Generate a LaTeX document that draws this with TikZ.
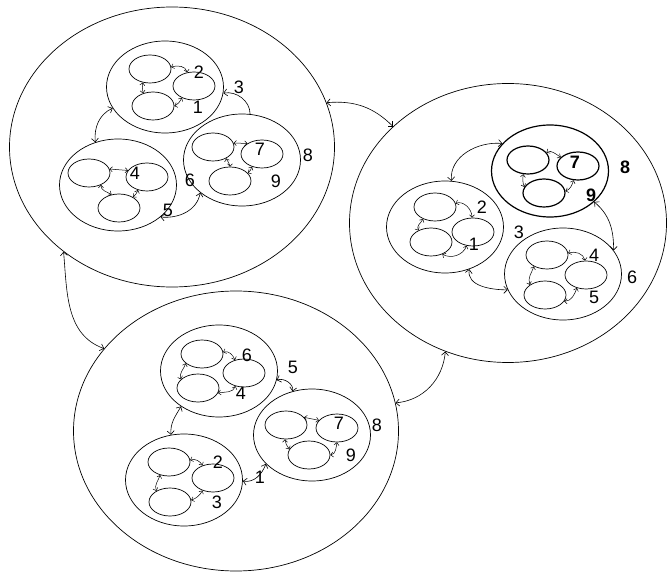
\documentclass[tikz,border=0pt]{standalone}
\usepackage{fontspec}
\setmainfont{Liberation Sans}
\usetikzlibrary{shapes.geometric, arrows.meta}

\begin{document}
\begin{tikzpicture}[
  x=1pt, y=-1pt,
  outer/.style={draw, ellipse, inner sep=0pt, minimum width=325pt, minimum height=280pt, line width=0.7pt},
  group/.style={draw, ellipse, inner sep=0pt, minimum width=117pt, minimum height=92pt, line width=0.7pt},
  cell/.style={draw, ellipse, inner sep=0pt, minimum width=42pt, minimum height=28pt, line width=0.7pt},
  hot/.style={line width=1.2pt},
  arr/.style={{Straight Barb[length=3.5pt, width=7pt]}-{Straight Barb[length=3.5pt, width=7pt]}, line width=0.6pt},
  sarr/.style={{Straight Barb[length=2.5pt, width=5pt]}-{Straight Barb[length=2.5pt, width=5pt]}, line width=0.5pt},
  num/.style={font=\fontsize{18}{20}\selectfont, inner sep=0pt},
]
\useasboundingbox (0,0) rectangle (667,572);

% Outer regions
\node[outer] (L) at (172,147) {};
\node[outer, minimum width=317pt, minimum height=279pt] (R) at (508,223) {};
\node[outer] (B) at (236,431) {};

% Region L
\node[group] (L1) at (165,87) {};
\node[group] (L2) at (118,185) {};
\node[group] (L3) at (242,160) {};
\node[cell] (L1a) at (150,69) {};
\node[cell] (L1b) at (194,86) {};
\node[cell] (L1c) at (153,106) {};
\node[cell] (L2a) at (89,173) {};
\node[cell] (L2b) at (147,177) {};
\node[cell] (L2c) at (119,208) {};
\node[cell] (L3a) at (213,147) {};
\node[cell] (L3b) at (262,154) {};
\node[cell] (L3c) at (230,181) {};
\node[num] (nL2) at (199,72) {2};
\node[num] (nL1) at (198,107) {1};
\node[num] (nL3) at (239,87) {3};
\node[num] (nL4) at (135,173) {4};
\node[num] (nL5) at (168,210) {5};
\node[num] (nL6) at (190,180) {6};
\node[num] (nL7) at (260,149) {7};
\node[num] (nL8) at (308,155) {8};
\node[num] (nL9) at (276,181) {9};

% Region R
\node[group, hot] (R1) at (550,171) {};
\node[group] (R2) at (445,227) {};
\node[group] (R3) at (563,274) {};
\node[cell, hot] (R1a) at (528,160) {};
\node[cell, hot] (R1b) at (578,166) {};
\node[cell, hot] (R1c) at (544,193) {};
\node[cell] (R2a) at (435,207) {};
\node[cell] (R2b) at (473,232) {};
\node[cell] (R2c) at (431,242) {};
\node[cell] (R3a) at (547,255) {};
\node[cell] (R3b) at (586,275) {};
\node[cell] (R3c) at (545,295) {};
\node[num, font=\fontsize{18}{20}\selectfont\bfseries] (nR7) at (575,162) {7};
\node[num, font=\fontsize{18}{20}\selectfont\bfseries] (nR8) at (625,167) {8};
\node[num, font=\fontsize{18}{20}\selectfont\bfseries] (nR9) at (591,195) {9};
\node[num] (nR2) at (482,207) {2};
\node[num] (nR1) at (474,244) {1};
\node[num] (nR3) at (519,232) {3};
\node[num] (nR4) at (594,255) {4};
\node[num] (nR5) at (594,297) {5};
\node[num] (nR6) at (632,277) {6};

% Region B
\node[group] (B1) at (219,371) {};
\node[group] (B2) at (184,480) {};
\node[group] (B3) at (312,435) {};
\node[cell] (B1a) at (202,354) {};
\node[cell] (B1b) at (244,373) {};
\node[cell] (B1c) at (198,388) {};
\node[cell] (B2a) at (169,462) {};
\node[cell] (B2b) at (213,478) {};
\node[cell] (B2c) at (170,502) {};
\node[cell] (B3a) at (286,425) {};
\node[cell] (B3b) at (337,428) {};
\node[cell] (B3c) at (309,455) {};
\node[num] (nB6) at (247,355) {6};
\node[num] (nB4) at (241,393) {4};
\node[num] (nB5) at (293,367) {5};
\node[num] (nB2) at (218,462) {2};
\node[num] (nB3) at (217,502) {3};
\node[num] (nB1) at (260,477) {1};
\node[num] (nB7) at (339,423) {7};
\node[num] (nB8) at (377,425) {8};
\node[num] (nB9) at (351,455) {9};

% Links between regions
\draw[arr] (L.16) to[out=5, in=135] (R.140);
\draw[arr] (L.224) to[out=275, in=160] (B.148);
\draw[arr] (R.244) to[out=265, in=5] (B.10);

% Links between groups
\draw[arr] (L1.202) to[out=205, in=95] (L2.118);
\draw[{Straight Barb[length=3.5pt, width=7pt]}-, line width=0.6pt] (L1.354) to[out=10, in=90] (L3.80);
\draw[arr] (L2.323) to[out=-5, in=260] (L3.218);
\draw[arr] (R1.150) to[out=175, in=95] (R2.82);
\draw[arr] (R1.325) to[out=-40, in=90] (R3.25);
\draw[arr] (R2.300) to[out=260, in=180] (R3.196);
\draw[arr] (B1.223) to[out=240, in=95] (B2.106);
\draw[arr] (B1.351) to[out=20, in=80] (B3.114);
\draw[arr] (B2.359) to[out=-10, in=250] (B3.212);

% Links between cells
\draw[sarr] (L1a.5) to[out=20, in=100] (L1b.117);
\draw[sarr] (L1a.242) to[out=260, in=100] (L1c.128);
\draw[sarr] (L1b.225) to[out=235, in=20] (L1c.0);
\draw[sarr] (L2a.11) -- (L2b.161);
\draw[sarr] (L2a.315) to[out=270, in=150] (L2c.119);
\draw[sarr] (L2b.235) to[out=250, in=40] (L2c.38);
\draw[sarr] (L3a.11) -- (L3b.144);
\draw[sarr] (L3a.319) to[out=290, in=90] (L3c.90);
\draw[sarr] (L3b.232) to[out=240, in=30] (L3c.24);
\draw[sarr] (R1a.22) to[out=30, in=150] (R1b.153);
\draw[sarr] (R1a.252) to[out=260, in=110] (R1c.163);
\draw[sarr] (R1b.253) to[out=250, in=20] (R1c.5);
\draw[sarr] (R2a.10) to[out=20, in=90] (R2b.94);
\draw[sarr] (R2a.225) to[out=240, in=120] (R2c.137);
\draw[sarr] (R2b.245) to[out=250, in=330] (R2c.313);
\draw[sarr] (R3a.5) to[out=20, in=100] (R3b.94);
\draw[sarr] (R3a.221) to[out=250, in=110] (R3c.146);
\draw[sarr] (R3b.235) to[out=250, in=0] (R3c.342);
\draw[sarr] (B1a.5) to[out=20, in=110] (B1b.125);
\draw[sarr] (B1a.210) to[out=250, in=110] (B1c.153);
\draw[sarr] (B1b.237) to[out=250, in=10] (B1c.346);
\draw[sarr] (B2a.5) to[out=20, in=120] (B2b.130);
\draw[sarr] (B2a.236) to[out=250, in=110] (B2c.141);
\draw[sarr] (B2b.230) to[out=240, in=20] (B2c.5);
\draw[sarr] (B3a.23) -- (B3b.157);
\draw[sarr] (B3a.266) to[out=270, in=120] (B3c.164);
\draw[sarr] (B3b.270) to[out=260, in=10] (B3c.0);

\end{tikzpicture}
\end{document}
